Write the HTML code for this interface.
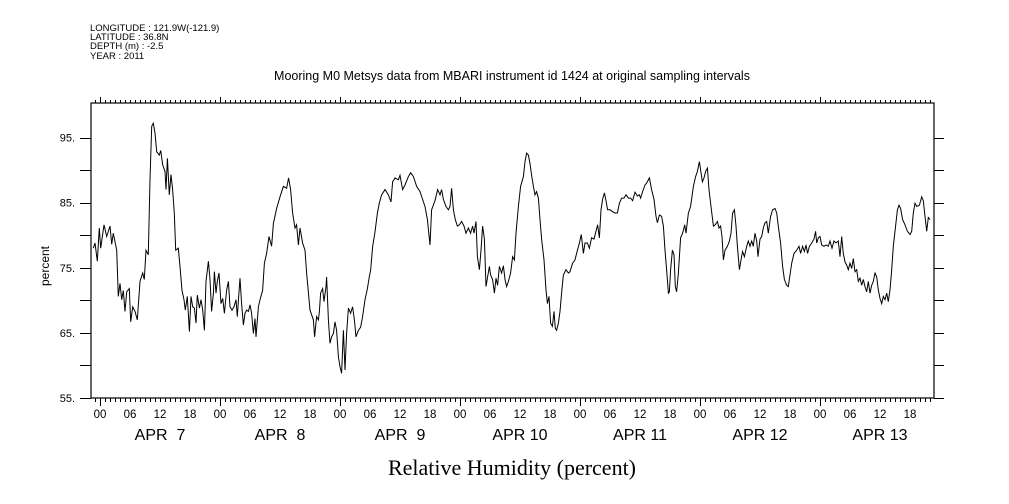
<!DOCTYPE html>
<html><head><meta charset="utf-8"><style>
html,body{margin:0;padding:0;background:#fff;}
svg{display:block;font-family:"Liberation Sans",sans-serif;}
</style></head><body>
<svg id="chart" width="1009" height="504" viewBox="0 0 1009 504">
<g font-size="9.5" fill="#000">
<text x="90" y="31">LONGITUDE : 121.9W(-121.9)</text>
<text x="90" y="40">LATITUDE : 36.8N</text>
<text x="90" y="49">DEPTH (m) : -2.5</text>
<text x="90" y="59">YEAR : 2011</text>
</g>
<text x="512" y="80" text-anchor="middle" font-size="12.5">Mooring M0 Metsys data from MBARI instrument id 1424 at original sampling intervals</text>
<text x="512" y="475" text-anchor="middle" font-size="22" font-family="Liberation Serif, serif">Relative Humidity (percent)</text>
<text transform="translate(49,266) rotate(-90)" text-anchor="middle" font-size="12">percent</text>
<g id="axes"></g>
<g id="series"></g>
</svg>
<script>
const hours=[-1.33,-1.0,-0.53,-0.13,0.13,0.8,1.33,2.0,2.33,2.67,3.33,3.67,4.0,4.33,4.67,5.0,5.33,5.87,6.13,6.53,7.0,7.47,8.0,8.53,8.87,9.2,9.67,10.0,10.33,10.67,11.0,11.33,11.87,12.13,12.53,13.0,13.2,13.47,13.87,14.2,14.53,14.87,15.13,15.67,16.0,16.4,16.8,17.07,17.47,17.87,18.2,18.53,18.87,19.2,19.47,19.87,20.2,20.53,20.87,21.2,21.67,22.0,22.33,22.67,22.87,23.2,23.47,23.8,24.2,24.53,24.87,25.33,25.67,26.0,26.4,26.8,27.2,27.47,27.73,28.0,28.33,28.67,29.0,29.33,29.67,30.0,30.33,30.67,31.0,31.2,31.67,32.0,32.53,32.87,33.33,33.8,34.33,34.67,35.33,36.0,36.67,37.33,37.73,38.13,38.53,39.0,39.33,39.67,40.0,40.53,41.0,41.33,42.0,42.67,42.93,43.33,43.67,43.87,44.13,44.53,44.8,45.2,45.33,45.67,46.0,46.33,46.67,47.0,47.33,47.67,48.0,48.33,48.67,49.0,49.33,49.67,50.13,50.53,50.87,51.2,51.67,52.13,52.53,53.0,53.47,53.87,54.13,54.53,55.0,55.47,55.87,
56.33,57.0,57.67,58.2,58.53,59.0,59.67,60.0,60.53,61.0,61.67,62.13,62.67,63.33,64.0,64.53,65.0,65.47,66.0,66.33,67.0,67.53,68.0,68.33,68.67,69.2,69.67,70.0,70.33,70.67,71.07,71.47,71.87,72.33,72.8,73.2,73.67,74.13,74.53,74.8,75.2,75.47,75.87,76.2,76.53,76.87,77.2,77.53,77.87,78.13,78.53,78.87,79.2,79.53,79.87,80.33,80.67,81.0,81.33,81.67,82.13,82.53,82.87,83.2,83.67,84.13,84.67,85.0,85.33,85.67,86.0,86.33,86.67,87.0,87.33,87.67,88.0,88.33,88.8,89.2,89.47,89.8,90.13,90.47,90.8,91.07,91.33,91.67,92.0,92.33,92.67,93.2,93.67,94.0,94.53,95.0,95.47,95.87,96.27,96.67,97.0,97.47,97.87,98.33,98.8,99.2,99.53,99.87,100.2,100.53,100.87,101.2,101.53,102.0,102.53,103.0,103.47,103.87,104.33,104.8,105.2,105.67,106.13,106.53,107.0,107.47,107.87,108.13,108.53,109.0,109.33,109.87,110.33,110.8,111.2,111.47,111.87,112.33,112.67,113.0,113.33,113.67,
113.87,114.13,114.47,114.8,115.07,115.33,115.67,116.13,116.53,116.93,117.2,117.67,118.13,118.67,119.13,119.47,119.87,120.13,120.47,120.8,121.13,121.47,121.8,122.2,122.67,123.07,123.47,123.8,124.13,124.4,124.67,125.0,125.47,125.87,126.2,126.53,126.87,127.2,127.47,127.87,128.2,128.53,128.87,129.33,129.67,130.0,130.33,130.67,131.0,131.33,131.6,132.0,132.33,132.67,133.0,133.33,133.67,134.13,134.53,135.0,135.33,135.67,136.13,136.53,136.87,137.33,137.67,138.0,138.33,138.8,139.33,139.8,140.13,140.53,140.87,141.2,141.53,141.87,142.33,142.8,143.13,143.33,143.67,144.0,144.33,144.8,145.2,145.67,146.0,146.4,146.8,147.2,147.67,148.0,148.33,148.67,149.0,149.33,149.67,150.0,150.33,150.67,151.0,151.33,151.67,152.0,152.33,152.67,153.0,153.33,153.67,154.0,154.33,154.67,155.0,155.33,155.67,156.0,156.33,156.67,157.0,157.33,157.67,158.0,158.33,158.67,159.13,159.47,159.8,160.13,160.53,161.0,161.47,162.0,162.33,162.67,163.0,163.33,163.87,164.33,164.67,165.0,165.33,165.67,166.0];
const humidity=[78.0,78.8,76.0,81.1,78.0,81.6,79.8,81.4,78.6,80.3,77.7,70.6,72.6,70.1,71.5,68.3,71.3,71.8,66.7,69.0,68.3,67.0,72.9,74.2,73.2,77.7,77.0,88.5,96.7,97.2,95.7,92.8,92.3,93.0,90.8,89.8,87.0,91.8,86.2,89.3,87.0,83.4,77.7,78.0,75.2,71.5,70.1,68.5,70.6,65.2,70.6,69.0,68.8,66.5,70.8,68.8,70.1,68.5,65.4,72.9,76.0,73.2,68.3,71.1,74.4,71.1,72.9,74.2,69.5,70.3,68.0,71.5,72.9,69.0,68.5,69.0,70.1,67.5,70.6,73.4,69.5,66.2,68.0,68.5,68.3,69.3,68.0,64.9,67.2,64.4,69.0,70.1,71.5,75.7,77.2,79.8,78.3,81.8,84.1,85.9,87.5,87.2,88.8,87.0,83.4,81.1,81.6,78.5,81.1,78.8,77.7,74.2,68.5,67.0,64.4,67.5,67.0,68.3,71.1,71.8,69.8,72.1,73.6,67.0,63.4,64.4,64.9,66.7,65.4,61.3,59.8,58.8,65.4,59.3,64.9,68.8,68.0,69.0,67.0,64.4,65.4,65.9,67.5,70.1,71.8,73.6,74.7,78.2,80.5,83.4,84.9,
86.2,87.0,86.2,85.1,88.2,88.8,88.5,89.2,87.0,87.7,89.0,89.6,89.0,87.5,86.7,85.5,84.4,82.4,78.5,83.9,85.3,87.0,86.2,87.0,85.5,84.4,83.9,84.4,87.2,83.9,82.4,81.4,81.6,82.1,81.4,80.3,81.1,80.3,81.4,80.3,82.1,76.7,74.7,77.7,81.4,79.4,72.1,73.6,75.2,73.9,73.2,71.1,73.4,72.3,75.2,74.2,75.3,73.2,72.1,72.9,74.2,76.7,76.2,80.3,84.4,87.5,89.0,91.3,92.6,92.3,91.0,89.2,87.5,86.2,86.7,85.7,82.4,79.4,76.2,71.6,69.5,70.6,66.5,66.0,68.3,65.7,65.4,66.5,68.3,71.1,73.9,74.7,74.2,74.4,75.7,76.2,77.7,78.8,80.1,77.2,78.8,78.8,78.0,79.6,79.4,80.6,81.6,79.6,83.9,85.5,86.5,85.3,83.9,83.9,83.6,83.4,83.4,84.9,85.7,85.7,86.2,85.7,85.7,85.3,86.6,86.0,86.2,85.7,86.7,87.7,88.0,88.8,87.0,85.5,82.9,81.9,83.1,82.9,81.4,77.7,74.7,71.1,
71.3,74.7,77.7,77.0,72.1,71.3,74.2,79.6,80.3,81.6,80.3,83.4,84.4,87.5,89.0,89.8,91.3,90.0,88.2,88.8,89.8,90.3,87.0,84.4,81.4,81.6,82.1,81.1,81.4,79.8,76.2,77.7,78.3,79.1,80.3,83.4,83.9,81.4,78.3,74.7,76.2,77.5,76.7,78.3,79.1,78.3,79.1,78.3,80.3,79.1,76.7,79.4,79.8,81.1,81.9,82.1,80.3,82.9,83.9,84.1,83.4,81.4,78.8,75.2,73.2,72.3,72.1,73.9,75.7,77.2,77.7,78.3,77.2,78.3,77.5,78.5,77.2,78.3,78.8,79.4,80.6,78.8,79.6,79.8,78.5,78.3,78.5,78.3,79.1,78.0,79.1,78.8,79.1,76.7,79.8,77.2,75.9,75.4,74.7,75.7,74.9,76.4,74.4,74.7,72.9,73.4,72.3,73.2,72.1,71.3,72.9,71.1,72.3,72.9,74.2,73.6,71.6,70.3,69.5,70.6,70.1,71.1,69.8,71.6,74.7,78.3,81.4,83.9,84.6,84.1,82.4,81.6,80.6,80.1,80.6,83.4,84.9,84.4,84.6,85.9,85.3,82.9,80.6,82.7,82.4];
const yTicks=[55,60,65,70,75,80,85,90,95];
const yTickLabels=["55.","","65.","","75.","","85.","","95."];
const dayLabels=["APR  7","APR  8","APR  9","APR 10","APR 11","APR 12","APR 13"];
const hourLabels=["00","06","12","18"];

const NS="http://www.w3.org/2000/svg";
const L=91,R=934,T=103,B=398;
const xs=h=>100+h*5;
const ys=v=>B-(v-55)*(B-137.5)/40;
function mk(tag,attrs,parent){const e=document.createElementNS(NS,tag);for(const k in attrs)e.setAttribute(k,attrs[k]);parent.appendChild(e);return e;}
const ax=document.getElementById('axes');
let frame=mk('rect',{x:L,y:T,width:R-L,height:B-T,fill:'none',stroke:'#000','stroke-width':1.2},ax);


let tp='';
for(let h=-1;h<=166;h++){const x=Math.round(xs(h))+0.5;if(x<L||x>R)continue;const maj=(h%24===0);
 tp+=`M${x},${B}V${B+(maj?8:4)}M${x},${T}V${T-(maj?6:3)}`;}
let tk=mk('path',{d:tp,stroke:'#000','stroke-width':1,fill:'none'},ax);


let yp='';
yTicks.forEach(v=>{const y=Math.round(ys(v))+0.5;yp+=`M${L-11},${y}H${L}M${R},${y}H${R+10}`;});
let ytk=mk('path',{d:yp,stroke:'#000','stroke-width':1,fill:'none'},ax);


yTicks.forEach((v,i)=>{if(!yTickLabels[i])return;const t=mk('text',{x:75,y:ys(v)+4,'text-anchor':'end','font-size':11},ax);t.textContent=yTickLabels[i];
 
 });
for(let d=0;d<7;d++){
 hourLabels.forEach((lab,j)=>{const t=mk('text',{x:xs(d*24+j*6),y:418,'text-anchor':'middle','font-size':11.5},ax);t.textContent=lab;
  
  });
 const t=mk('text',{x:xs(d*24+12),y:440,'text-anchor':'middle','font-size':16},ax);t.textContent=dayLabels[d];
 t.style.whiteSpace='pre';
 
 
}
const pts=hours.map((h,i)=>xs(h).toFixed(1)+','+ys(humidity[i]).toFixed(1)).join(' ');
const line=mk('polyline',{points:pts,fill:'none',stroke:'#000','stroke-width':1},document.getElementById('series'));


</script>
</body></html>
